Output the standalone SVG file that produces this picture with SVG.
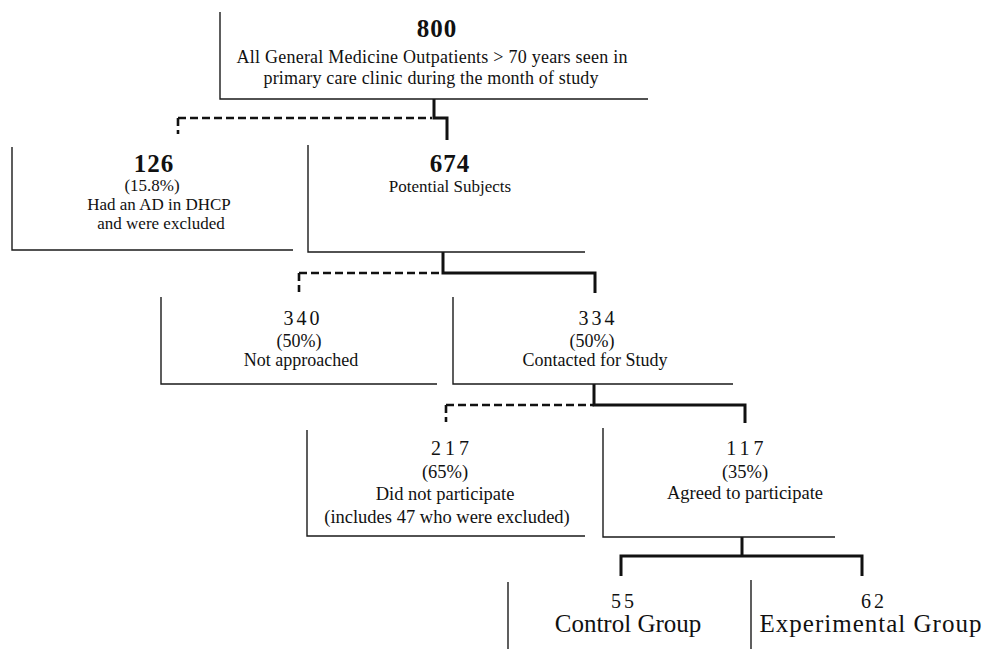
<svg xmlns="http://www.w3.org/2000/svg" width="983" height="649" viewBox="0 0 983 649">
<style>
.box{fill:none;stroke:#1a1a1a;stroke-width:1.4}
.conn{fill:none;stroke:#111;stroke-width:3}
.dash{fill:none;stroke:#111;stroke-width:2.6;stroke-dasharray:8 4}
text{font-family:"Liberation Serif","Times New Roman",serif;fill:#111;text-anchor:middle}
.big{font-size:25px;font-weight:bold;letter-spacing:1px}
.num{font-size:20px;letter-spacing:3px}
.t18{font-size:18px}
.t185{font-size:18.5px}
.t17{font-size:17px}
.t24{font-size:25px}
</style>
<rect width="983" height="649" fill="#fff"/>
<g id="connectors">
<path class="conn" d="M434,99 V118 H447 V140"/>
<path class="dash" d="M178,118 H432"/>
<path class="dash" d="M178,118 V134"/>
<path class="conn" d="M443,252 V273 H595 V293"/>
<path class="dash" d="M299,273 H443"/>
<path class="dash" d="M299,273 V292"/>
<path class="conn" d="M594,384 V405 H745 V423"/>
<path class="dash" d="M446,405 H594"/>
<path class="dash" d="M446,405 V422"/>
<path class="conn" d="M742,537 V556"/>
<path class="conn" d="M621,576 V556 H862 V576"/>
</g>
<g id="n800">
<path class="box" d="M220,12 V99 H648"/>
<text class="big" x="437" y="37">800</text>
<text class="t18" x="432" y="63" textLength="391" lengthAdjust="spacing">All General Medicine Outpatients &gt; 70 years seen in</text>
<text class="t18" x="431" y="84" textLength="335" lengthAdjust="spacing">primary care clinic during the month of  study</text>
</g>
<g id="n126">
<path class="box" d="M12,147 V250 H293"/>
<text class="big" x="154" y="172">126</text>
<text class="t17" x="152" y="191">(15.8%)</text>
<text class="t17" x="159" y="210">Had an AD in DHCP</text>
<text class="t17" x="161" y="229">and were excluded</text>
</g>
<g id="n674">
<path class="box" d="M308,145 V252 H585"/>
<text class="big" x="450" y="172">674</text>
<text class="t17" x="450" y="192">Potential Subjects</text>
</g>
<g id="n340">
<path class="box" d="M161,297 V384 H437"/>
<text class="num" x="303" y="325">340</text>
<text class="t18" x="299" y="347">(50%)</text>
<text class="t18" x="301" y="366">Not approached</text>
</g>
<g id="n334">
<path class="box" d="M453,297 V384 H733"/>
<text class="num" x="598" y="325">334</text>
<text class="t18" x="592" y="347">(50%)</text>
<text class="t18" x="595" y="366">Contacted for Study</text>
</g>
<g id="n217">
<path class="box" d="M307,430 V536 H585"/>
<text class="num" x="452" y="455" style="letter-spacing:4px">217</text>
<text class="t185" x="445" y="478">(65%)</text>
<text class="t185" x="445" y="500">Did not participate</text>
<text class="t185" x="447" y="523">(includes 47 who were excluded)</text>
</g>
<g id="n117">
<path class="box" d="M603,428 V537 H835"/>
<text class="num" x="747" y="455" style="letter-spacing:4px">117</text>
<text class="t185" x="745" y="478">(35%)</text>
<text class="t185" x="745" y="499">Agreed to participate</text>
</g>
<g id="n55">
<path class="box" d="M508,582 V649"/>
<text class="num" x="624" y="608">55</text>
<text class="t24" x="628" y="632">Control Group</text>
</g>
<g id="n62">
<path class="box" d="M751,580 V649"/>
<text class="num" x="874" y="608">62</text>
<text class="t24" x="871" y="632" style="letter-spacing:1px">Experimental Group</text>
</g>
</svg>
